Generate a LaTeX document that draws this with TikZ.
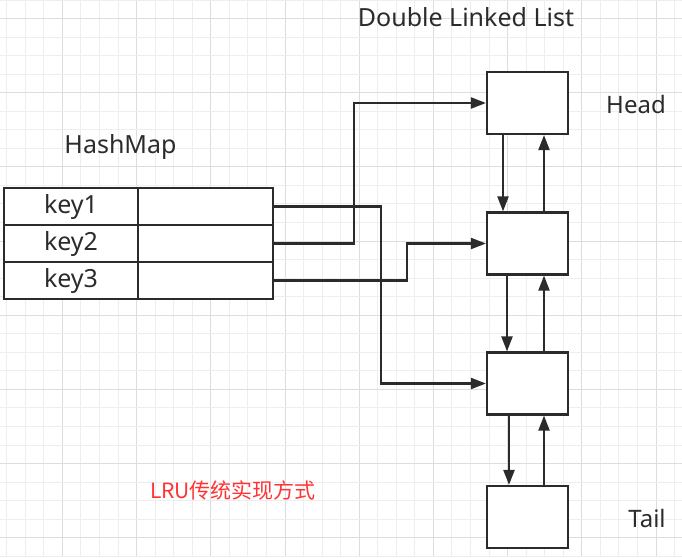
\documentclass[tikz,border=0pt]{standalone}
\usepackage{fontspec}
\setmainfont{Noto Sans}
\newfontfamily\cjk{Noto Sans CJK SC}
\usetikzlibrary{arrows.meta}
\definecolor{ink}{HTML}{2B2B2B}
\definecolor{gridminor}{HTML}{EEEEEE}
\definecolor{gridmajor}{HTML}{DDDDDD}
\definecolor{redtxt}{HTML}{FF3333}
\tikzset{
  box/.style={draw=ink, line width=2.2pt, fill=white, minimum width=81pt, minimum height=62pt, inner sep=0pt},
  cell/.style={draw=ink, line width=2.2pt, fill=white, minimum height=37pt, inner sep=0pt, text=ink, font=\fontsize{25}{28}\selectfont},
  arr/.style={draw=ink, line width=2.2pt, -{Triangle[length=15pt,width=11pt]}},
  lbl/.style={text=ink, inner sep=0pt, font=\fontsize{25}{28}\selectfont}
}
\begin{document}
\begin{tikzpicture}[x=1pt,y=-1pt]
\useasboundingbox (0,0) rectangle (682,557);
\fill[white] (0,0) rectangle (682,557);
% grid
\foreach \k in {0,...,36} {
  \pgfmathsetmacro{\gx}{6.7+18.55*\k}
  \pgfmathtruncatemacro{\mj}{mod(\k,4)==3 ? 1 : 0}
  \ifnum\mj=1
    \draw[gridmajor, line width=0.9pt] (\gx,0) -- (\gx,557);
  \else
    \draw[gridminor, line width=0.9pt] (\gx,0) -- (\gx,557);
  \fi
}
\foreach \k in {0,...,30} {
  \pgfmathsetmacro{\gy}{18.54*\k}
  \pgfmathtruncatemacro{\mj}{mod(\k,4)==1 ? 1 : 0}
  \ifnum\mj=1
    \draw[gridmajor, line width=0.9pt] (0,\gy) -- (682,\gy);
  \else
    \draw[gridminor, line width=0.9pt] (0,\gy) -- (682,\gy);
  \fi
}
% titles
\node[lbl] (title) at (466,17) {Double Linked List};
\node[lbl] (hm) at (120.5,147) {HashMap};
\node[lbl, font=\fontsize{24}{28}\selectfont] (headlbl) at (636,104) {Head};
\node[lbl, font=\fontsize{24}{28}\selectfont] (taillbl) at (647,518) {Tail};
\node[text=redtxt, inner sep=0pt, font=\cjk\fontsize{21}{24}\selectfont] (cap) at (233,490) {LRU传统实现方式};
% table
\node[cell, minimum width=134pt] (k1) at (71,206.5) {key1};
\node[cell, minimum width=135pt] (v1) at (205.5,206.5) {};
\node[cell, minimum width=134pt] (k2) at (71,243.5) {key2};
\node[cell, minimum width=135pt] (v2) at (205.5,243.5) {};
\node[cell, minimum width=134pt] (k3) at (71,280.5) {key3};
\node[cell, minimum width=135pt] (v3) at (205.5,280.5) {};
% list boxes
\node[box] (head) at (527.5,103) {};
\node[box] (b2) at (527.5,243.5) {};
\node[box] (b3) at (527.5,383.5) {};
\node[box] (tail) at (527.5,517) {};
% hash arrows
\draw[arr] (v1.east) -- ++(107,0) |- (b3.west);
\draw[arr] (v2.east) -- ++(80,0) |- (head.west);
\draw[arr] (v3.east) -- ++(133,0) |- (b2.west);
% list arrows
\draw[arr] ([xshift=-24.5pt]head.south) -- ([xshift=-24.5pt]b2.north);
\draw[arr] ([xshift=16.5pt]b2.north) -- ([xshift=16.5pt]head.south);
\draw[arr] ([xshift=-20.5pt]b2.south) -- ([xshift=-20.5pt]b3.north);
\draw[arr] ([xshift=16.5pt]b3.north) -- ([xshift=16.5pt]b2.south);
\draw[arr] ([xshift=-18.5pt]b3.south) -- ([xshift=-18.5pt]tail.north);
\draw[arr] ([xshift=16.5pt]tail.north) -- ([xshift=16.5pt]b3.south);
\end{tikzpicture}
\end{document}
